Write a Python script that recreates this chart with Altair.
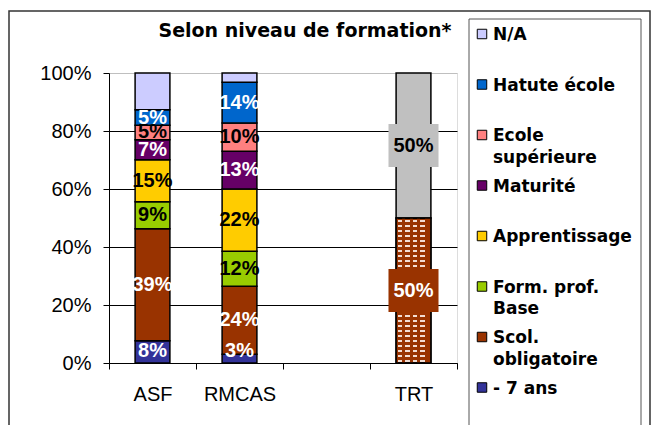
import json
import altair as alt
import pandas as pd

# ---------------- data ----------------
categories = ["ASF", "RMCAS", " ", "TRT"]
series = ["- 7 ans", "Scol. obligatoire", "Form. prof. Base", "Apprentissage",
          "Maturité", "Ecole supérieure", "Hatute école", "N/A"]
legend_labels = ["N/A", "Hatute école", "Ecole|supérieure", "Maturité",
                 "Apprentissage", "Form. prof.|Base", "Scol.|obligatoire", "- 7 ans"]
colors = ["#333399", "#993300", "#99CC00", "#FFCC00",
          "#660066", "#FF8080", "#0066CC", "#CCCCFF"]
asf_values = [7.7, 38.6, 9.3, 14.5, 6.9, 5.0, 5.3, 12.7]
rmcas_values = [3.0, 23.5, 12.0, 21.5, 13.0, 9.8, 14.0, 3.2]
trt_values = [0, 50, 0, 0, 0, 0, 0, 50]
dark_series = ["- 7 ans", "Scol. obligatoire", "Maturité", "Hatute école"]
title_text = "Selon niveau de formation*"
y_ticks = [0, 20, 40, 60, 80, 100]

TRT_NA_KEY = "N/A (TRT)"
TRT_NA_COLOR = "#C0C0C0"

rows = []
for cat, vals in [("ASF", asf_values), ("RMCAS", rmcas_values), ("TRT", trt_values)]:
    for i, (s, v) in enumerate(zip(series, vals)):
        if v <= 0:
            continue
        key = TRT_NA_KEY if (cat == "TRT" and s == "N/A") else s
        rows.append({"cat": cat, "ser": s, "v": v, "ord": i, "ckey": key})
df = pd.DataFrame(rows)

legend_df = pd.DataFrame({
    "label": legend_labels,
    "ckey": list(reversed(series)),
    "li": list(range(len(legend_labels))),
})
one = pd.DataFrame({"k": [0]})

color_scale = alt.Scale(domain=series + [TRT_NA_KEY], range=colors + [TRT_NA_COLOR])

LABEL_FONT = "Liberation Sans, Arial"
x_axis = alt.Axis(tickBand="extent", tickSize=6, tickColor="black", tickWidth=1,
                  domainColor="black", domainWidth=1, labelFont=LABEL_FONT,
                  labelFontSize=20, labelColor="black", labelPadding=15,
                  labelAngle=0, grid=False, title=None)
y_axis = alt.Axis(values=y_ticks, labelExpr="datum.value + '%'", tickSize=6,
                  tickColor="black", domainColor="black", domainWidth=1,
                  labelFont=LABEL_FONT, labelFontSize=20, labelColor="black",
                  labelPadding=12, grid=True, gridWidth=1,
                  gridColor={"condition": {"test": "datum.value == 100", "value": "#BFBFBF"},
                             "value": "black"},
                  title=None)
x_scale = alt.Scale(type="band", domain=categories, paddingInner=0, paddingOuter=0)
y_scale = alt.Scale(domain=[0, 100], nice=False)


def X():
    return alt.X("cat:N", scale=x_scale, axis=x_axis, title=None)


def Y(field):
    return alt.Y(field, scale=y_scale, axis=y_axis, title=None)


base = (alt.Chart(df)
        .transform_stack(stack="v", groupby=["cat"],
                         sort=[alt.SortField("ord", order="ascending")],
                         as_=["y0", "y1"])
        .transform_calculate(mid="(datum.y0 + datum.y1) / 2",
                             ly="max((datum.y0 + datum.y1) / 2, 4)",
                             lbl="round(datum.v) + '%'",
                             b0="(datum.y0 + datum.y1) / 2 - 7.4",
                             b1="(datum.y0 + datum.y1) / 2 + 7.4"))

BAR_W = alt.RelativeBandSize(0.4)

bars = base.mark_bar(width=BAR_W, stroke="black", strokeWidth=1.5).encode(
    x=X(), y=Y("y0:Q"), y2="y1:Q",
    color=alt.Color("ckey:N", scale=color_scale, legend=None))

trt_scol = base.transform_filter("datum.cat == 'TRT' && datum.ser == 'Scol. obligatoire'")

# dotted fill of the TRT segment (style only)
seg_px = 145.0
stops_h = [alt.GradientStop(color="rgba(255,255,255,0)", offset=0)]
k = 0
while True:
    a = (2 + 5 * k) / seg_px
    b = (3.6 + 5 * k) / seg_px
    if b >= 1:
        break
    stops_h += [alt.GradientStop(color="rgba(255,255,255,0)", offset=a),
                alt.GradientStop(color="#F2DDD3", offset=a),
                alt.GradientStop(color="#F2DDD3", offset=b),
                alt.GradientStop(color="rgba(255,255,255,0)", offset=b)]
    k += 1
stops_h.append(alt.GradientStop(color="rgba(255,255,255,0)", offset=1))
white_rows = trt_scol.mark_bar(
    width=BAR_W,
    fill=alt.LinearGradient(gradient="linear", stops=stops_h, x1=0, x2=0, y1=0, y2=1)
).encode(x=X(), y=Y("y0:Q"), y2="y1:Q")

bar_px = 34.8
stops_v = [alt.GradientStop(color="#993300", offset=0)]
k = 0
while True:
    a = (1.5 + 7.5 * k) / bar_px
    b = (6.0 + 7.5 * k) / bar_px
    if b >= 1:
        break
    stops_v += [alt.GradientStop(color="#993300", offset=a),
                alt.GradientStop(color="rgba(153,51,0,0)", offset=a),
                alt.GradientStop(color="rgba(153,51,0,0)", offset=b),
                alt.GradientStop(color="#993300", offset=b)]
    k += 1
stops_v.append(alt.GradientStop(color="#993300", offset=1))
gaps = trt_scol.mark_bar(
    width=BAR_W,
    fill=alt.LinearGradient(gradient="linear", stops=stops_v, x1=0, x2=1, y1=0, y2=0)
).encode(x=X(), y=Y("y0:Q"), y2="y1:Q")

outline = trt_scol.mark_bar(width=BAR_W, fillOpacity=0, stroke="black",
                            strokeWidth=1.5).encode(x=X(), y=Y("y0:Q"), y2="y1:Q")

boxes = base.transform_filter("datum.cat == 'TRT'").mark_bar(
    width=alt.RelativeBandSize(0.575)).encode(
    x=X(), y=Y("b0:Q"), y2="b1:Q",
    color=alt.Color("ckey:N", scale=color_scale, legend=None))

labelled = base.transform_filter("datum.ckey != 'N/A'")
dark_expr = "indexof(" + json.dumps(dark_series) + ", datum.ser) >= 0"
text_kw = dict(font=LABEL_FONT, fontWeight="bold", fontSize=20,
               align="center", baseline="middle")
labels_white = labelled.transform_filter(dark_expr).mark_text(color="white", **text_kw).encode(
    x=X(), y=Y("ly:Q"), text="lbl:N")
labels_black = labelled.transform_filter("!(" + dark_expr + ")").mark_text(color="black", **text_kw).encode(
    x=X(), y=Y("ly:Q"), text="lbl:N")

main = alt.layer(bars, white_rows, gaps, outline, boxes, labels_white, labels_black)

# ---------------- legend, title, frames ----------------
leg_y = alt.Y("li:Q", scale=alt.Scale(domain=[0, 7], range=[-39, 314.5], nice=False, zero=False),
              axis=None)
legend_box = alt.Chart(one).mark_rect(fill="white", stroke="#555555", strokeWidth=1).encode(
    x=alt.value(360), x2=alt.value(532), y=alt.value(-54), y2=alt.value(354))
leg_sq = alt.Chart(legend_df).mark_square(size=90, stroke="black", strokeWidth=1, opacity=1).encode(
    x=alt.value(373), y=leg_y,
    color=alt.Color("ckey:N", scale=color_scale, legend=None))
leg_tx = alt.Chart(legend_df).mark_text(
    align="left", baseline="top", font="DejaVu Sans", fontWeight="bold",
    fontSize=17, lineBreak="|", lineHeight=21.5, dy=-7, color="black").encode(
    x=alt.value(384), y=leg_y, text="label:N")
title = alt.Chart(one).mark_text(
    font="DejaVu Sans", fontWeight="bold", fontSize=19, align="center",
    baseline="middle", color="black").encode(
    x=alt.value(196), y=alt.value(-42), text=alt.value(title_text))
legend = alt.layer(legend_box, leg_sq, leg_tx, title)

frame = alt.Chart(one).mark_rect(fillOpacity=0, stroke="#333333", strokeWidth=1.5).encode(
    x=alt.value(-100), x2=alt.value(541), y=alt.value(-62), y2=alt.value(420))

chart = (alt.layer(frame, main, legend)
         .resolve_scale(y="independent")
         .properties(width=348, height=290,
                     autosize=alt.AutoSizeParams(type="none"),
                     padding={"left": 101, "top": 65, "right": 194, "bottom": 62})
         .configure_view(stroke="#BFBFBF", strokeWidth=1.5)
         .configure(background="white"))

chart.save("out.html", embed_options={"renderer": "svg", "actions": False})
